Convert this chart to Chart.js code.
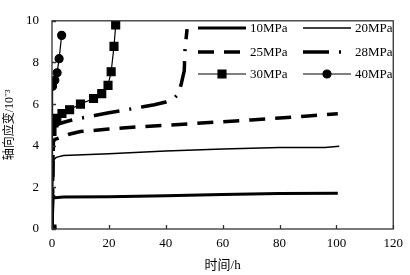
<!DOCTYPE html>
<html>
<head>
<meta charset="utf-8">
<script src="https://cdn.jsdelivr.net/npm/chart.js@4.4.0/dist/chart.umd.min.js"></script>
<style>
  html, body { margin: 0; padding: 0; background: #fff; }
</style>
</head>
<body>
<canvas id="c" width="410" height="275"></canvas>
<script>
  // time (h) and axial strain (10^-3)
  const labels = ["10MPa", "20MPa", "25MPa", "28MPa", "30MPa", "40MPa"];

  const t10 = [0, 0.4, 1.2, 4, 20, 40, 60, 80, 100.5];
  const s10 = [0, 1.6, 1.5, 1.54, 1.55, 1.6, 1.66, 1.7, 1.72];

  const t20 = [0, 0.4, 1.5, 4, 20, 40, 60, 80, 96, 101];
  const s20 = [0, 3.3, 3.44, 3.53, 3.62, 3.75, 3.84, 3.91, 3.92, 3.98];

  const t25 = [0, 0.5, 1, 3, 6, 10, 20, 30, 40, 50, 60, 70, 80, 90, 100.5];
  const s25 = [0, 4.2, 4.3, 4.4, 4.55, 4.68, 4.8, 4.9, 4.98, 5.07, 5.15, 5.24, 5.33, 5.43, 5.54];

  const t28 = [0, 0.5, 1, 3, 6, 10, 15, 20, 27, 32, 36, 40, 43, 44.5, 45.5, 46.5, 46.8, 47.5];
  const s28 = [0, 4.85, 4.95, 5.08, 5.2, 5.32, 5.45, 5.58, 5.75, 5.87, 5.97, 6.1, 6.28, 6.5, 7.0, 7.6, 8.7, 9.6];

  const t30 = [0, 0, 0.7, 1.7, 3.5, 6.2, 10, 14.6, 17.5, 19.7, 20.8, 21.8, 22.4];
  const s30 = [0, 4.68, 5.09, 5.32, 5.55, 5.73, 6.0, 6.27, 6.5, 6.9, 7.55, 8.77, 9.8];

  const t40 = [0, 0.2, 1, 1.8, 2.5, 3.4];
  const s40 = [0, 6.86, 7.14, 7.5, 8.18, 9.3];

  const xTicks = [0, 20, 40, 60, 80, 100, 120];
  const yTicks = [0, 2, 4, 6, 8, 10];

  const FONT = "'Liberation Serif', 'Noto Sans CJK SC', serif";
  const INK = "#000";

  function pts(t, s) { return t.map((x, i) => ({ x, y: s[i] })); }

  // frame, inward ticks and the two-column legend
  const framePlugin = {
    id: "frame",
    afterDraw(chart) {
      const ctx = chart.ctx;
      const a = chart.chartArea;
      const xs = chart.scales.x, ys = chart.scales.y;
      ctx.save();
      ctx.strokeStyle = "#333";
      ctx.lineWidth = 1.3;
      ctx.strokeRect(a.left, a.top, a.right - a.left, a.bottom - a.top);
      ctx.beginPath();
      xTicks.forEach(v => {
        const p = Math.round(xs.getPixelForValue(v)) + 0.5;
        ctx.moveTo(p, a.bottom); ctx.lineTo(p, a.bottom - 4);
      });
      yTicks.forEach(v => {
        const p = Math.round(ys.getPixelForValue(v)) + 0.5;
        ctx.moveTo(a.left, p); ctx.lineTo(a.left + 4, p);
      });
      ctx.stroke();

      // legend
      const cols = [198, 303], rows = [28, 52, 74], len = 48;
      ctx.font = "13px " + FONT;
      ctx.fillStyle = INK;
      ctx.textBaseline = "middle";
      chart.data.datasets.forEach((ds, i) => {
        const x0 = cols[i % 2], y = rows[Math.floor(i / 2)];
        ctx.strokeStyle = INK;
        ctx.lineWidth = ds.borderWidth;
        ctx.setLineDash(ds.borderDash || []);
        ctx.beginPath();
        ctx.moveTo(x0, y); ctx.lineTo(x0 + len, y);
        ctx.stroke();
        ctx.setLineDash([]);
        if (ds.pointRadius > 0) {
          Chart.helpers.drawPoint(ctx, {
            pointStyle: ds.pointStyle, radius: ds.pointRadius, borderWidth: 1
          }, x0 + len / 2, y);
        }
        ctx.fillText(ds.label, x0 + len + 4, y + 1);
      });
      ctx.restore();
    }
  };

  const line = (lab, t, s, w, dash, style, r) => ({
    label: lab,
    data: pts(t, s),
    borderColor: INK,
    backgroundColor: INK,
    borderWidth: w,
    borderDash: dash,
    pointStyle: style,
    pointRadius: r,
    pointBackgroundColor: INK,
    pointBorderColor: INK,
    tension: 0,
    borderCapStyle: "butt"
  });

  new Chart(document.getElementById("c"), {
    type: "line",
    data: {
      datasets: [
        line(labels[0], t10, s10, 3, [], "circle", 0),
        line(labels[1], t20, s20, 1.5, [], "circle", 0),
        line(labels[2], t25, s25, 3.5, [16, 10], "circle", 0),
        line(labels[3], t28, s28, 3.5, [26, 10, 2, 10], "circle", 0),
        line(labels[4], t30, s30, 1.2, [], "rect", 5.6),
        line(labels[5], t40, s40, 1.2, [], "circle", 4)
      ]
    },
    options: {
      responsive: false,
      animation: false,
      layout: { padding: { left: 0, right: 11, top: 9, bottom: 0 } },
      plugins: { legend: { display: false }, tooltip: { enabled: false } },
      scales: {
        x: {
          type: "linear", min: 0, max: 120,
          afterBuildTicks: s => { s.ticks = xTicks.map(v => ({ value: v })); },
          grid: { display: false, drawTicks: false },
          border: { display: false },
          ticks: { color: INK, font: { family: FONT, size: 13 }, padding: 7, maxRotation: 0 },
          title: { display: true, text: "时间/h", color: INK, font: { family: FONT, size: 13 }, padding: { top: 0, bottom: 2 } },
          afterFit: s => { s.height = 46; }
        },
        y: {
          type: "linear", min: 0, max: 10,
          afterBuildTicks: s => { s.ticks = yTicks.map(v => ({ value: v })); },
          grid: { display: false, drawTicks: false },
          border: { display: false },
          ticks: { color: INK, font: { family: FONT, size: 13 }, padding: 13 },
          title: { display: true, text: "轴向应变/10⁻³", color: INK, font: { family: FONT, size: 12 }, padding: { top: 3, bottom: 0 } },
          afterFit: s => { s.width = 52; }
        }
      }
    },
    plugins: [framePlugin]
  });
</script>
</body>
</html>
